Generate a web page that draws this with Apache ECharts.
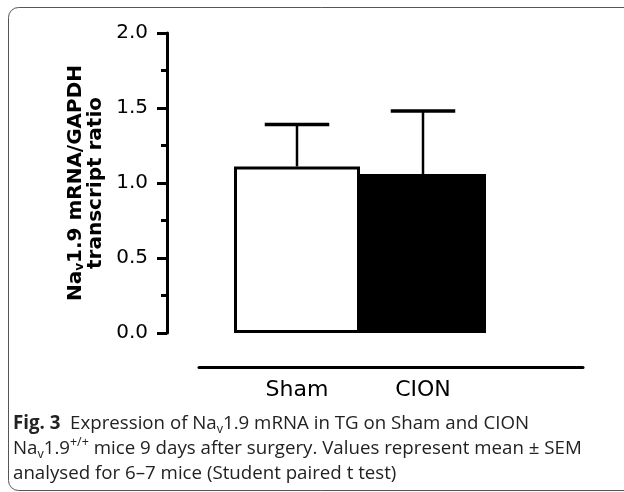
<!DOCTYPE html>
<html>
<head>
<meta charset="utf-8">
<script src="https://cdn.jsdelivr.net/npm/echarts@6/dist/echarts.min.js"></script>
<style>
  html, body { margin: 0; padding: 0; background: #fff; }
  #chart { width: 624px; height: 492px; }
</style>
</head>
<body>
<div id="chart"></div>
<script>
// chart data
const categories = ['Sham', 'CION'];
const means = [1.11, 1.06];
const sems = [0.28, 0.42];
const barColors = ['#ffffff', '#000000'];
const yMin = 0;
const yMax = 2;
const yStep = 0.5;

const chart = echarts.init(document.getElementById('chart'));

// upper error whisker only, like the Prism original
function renderErrorBar(params, api) {
  const base = api.coord([api.value(0), api.value(1)]);
  const tip = api.coord([api.value(0), api.value(2)]);
  const halfCap = api.size([1, 0])[0] * 0.256;
  return {
    type: 'group',
    children: [
      {
        type: 'line',
        shape: { x1: base[0], y1: base[1], x2: tip[0], y2: tip[1] },
        style: { stroke: '#000', lineWidth: 2.5 },
      },
      {
        type: 'line',
        shape: { x1: tip[0] - halfCap, y1: tip[1], x2: tip[0] + halfCap, y2: tip[1] },
        style: { stroke: '#000', lineWidth: 3.5 },
      },
    ],
  };
}

const captionText = [
  '{fig|Fig. 3}{t|  Expression of Na}{sub|v}{t|1.9 mRNA in TG on Sham and CION}',
  '{t|Na}{sub|v}{t|1.9}{sup|+/+}{t| mice 9 days after surgery. Values represent mean ± SEM}',
  '{t|analysed for 6–7 mice (Student paired t test)}',
].join('\n');

const option = {
  animation: false,
  backgroundColor: '#fff',
  grid: [
    // bars
    { left: 234, top: 33, width: 252, height: 300 },
    // the detached baseline under the bars
    { left: 199, top: 10, width: 384, height: 357 },
  ],
  xAxis: [
    {
      type: 'category',
      gridIndex: 0,
      data: categories,
      axisLine: { show: false },
      axisTick: { show: false },
      axisLabel: {
        margin: 46,
        fontFamily: 'DejaVu Sans',
        fontSize: 22,
        color: '#000',
      },
    },
    {
      type: 'value',
      gridIndex: 1,
      min: 0,
      max: 1,
      axisLine: { show: true, lineStyle: { color: '#000', width: 3 } },
      axisTick: { show: false },
      axisLabel: { show: false },
      splitLine: { show: false },
    },
  ],
  yAxis: [
    {
      type: 'value',
      gridIndex: 0,
      min: yMin,
      max: yMax,
      interval: yStep,
      offset: 67,
      name: '{b|Na}{s|v}{b|1.9 mRNA/GAPDH}\n{b|transcript ratio}',
      nameLocation: 'middle',
      nameRotate: 90,
      nameGap: 61,
      nameTextStyle: {
        rich: {
          b: {
            fontFamily: 'DejaVu Sans',
            fontWeight: 'bold',
            fontSize: 20,
            lineHeight: 20,
            color: '#000',
          },
          s: {
            fontFamily: 'DejaVu Sans',
            fontWeight: 'bold',
            fontSize: 12,
            lineHeight: 8,
            verticalAlign: 'bottom',
            color: '#000',
          },
        },
      },
      axisLine: { show: true, lineStyle: { color: '#000', width: 3 } },
      axisTick: { show: true, length: 10, lineStyle: { color: '#000', width: 3 } },
      minorTick: { show: true, splitNumber: 2, length: 6, lineStyle: { color: '#000', width: 3 } },
      splitLine: { show: false },
      axisLabel: {
        margin: 19,
        fontFamily: 'DejaVu Sans',
        fontSize: 20,
        color: '#000',
        formatter: (v) => v.toFixed(1),
      },
    },
    {
      type: 'value',
      gridIndex: 1,
      show: false,
    },
  ],
  series: [
    {
      type: 'bar',
      xAxisIndex: 0,
      yAxisIndex: 0,
      barWidth: '100%',
      barCategoryGap: '0%',
      data: means.map((v, i) => ({ value: v, itemStyle: { color: barColors[i] } })),
      itemStyle: { borderColor: '#000', borderWidth: 3 },
      z: 2,
    },
    {
      type: 'custom',
      xAxisIndex: 0,
      yAxisIndex: 0,
      renderItem: renderErrorBar,
      data: means.map((m, i) => [i, m, m + sems[i]]),
      z: 3,
    },
  ],
  graphic: [
    {
      type: 'rect',
      shape: { x: 8.5, y: 7.5, width: 700, height: 483, r: 10 },
      style: { fill: 'none', stroke: '#555', lineWidth: 1 },
      silent: true,
    },
    {
      type: 'text',
      left: 13,
      top: 414,
      style: {
        text: captionText,
        rich: {
          fig: { fontFamily: 'Open Sans', fontWeight: 'bold', fontSize: 18.7, lineHeight: 25, fill: '#222' },
          t: { fontFamily: 'Open Sans', fontSize: 18.7, lineHeight: 25, fill: '#222' },
          sub: { fontFamily: 'Open Sans', fontSize: 12.5, lineHeight: 6, verticalAlign: 'bottom', fill: '#222' },
          sup: { fontFamily: 'Open Sans', fontSize: 12.5, lineHeight: 12, verticalAlign: 'top', fill: '#222' },
        },
      },
    },
  ],
};

chart.setOption(option);
</script>
</body>
</html>
